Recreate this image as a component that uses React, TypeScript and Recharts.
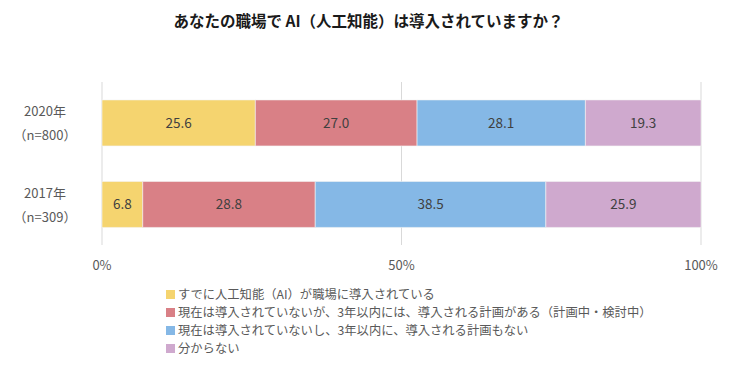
import React from 'react';
import {
  BarChart,
  Bar,
  XAxis,
  YAxis,
  CartesianGrid,
  LabelList
} from 'recharts';

document.body.style.margin = '0';

const FONT = '"Noto Sans CJK JP", "Noto Sans", sans-serif';

const years = ['2020年', '2017年'];
const samples = ['（n=800）', '（n=309）'];
const introduced = [25.6, 6.8];
const planned = [27.0, 28.8];
const noPlan = [28.1, 38.5];
const unknown = [19.3, 25.9];
const xTicks = [0, 50, 100];

const seriesNames = [
  'すでに人工知能（AI）が職場に導入されている',
  '現在は導入されていないが、3年以内には、導入される計画がある（計画中・検討中）',
  '現在は導入されていないし、3年以内に、導入される計画もない',
  '分からない'
];
const seriesKeys = ['introduced', 'planned', 'noPlan', 'unknown'];
const colors = ['#F5D46F', '#D98086', '#85B8E6', '#CFA9CE'];

const data = years.map((y, i) => ({
  year: y,
  n: samples[i],
  introduced: introduced[i],
  planned: planned[i],
  noPlan: noPlan[i],
  unknown: unknown[i]
}));

const YTick = (props: any) => {
  const { x, y, payload } = props;
  const row = data.find((d) => d.year === payload.value);
  return (
    <g>
      <text x={x - 49} y={y - 12} textAnchor="middle" dominantBaseline="central" fontSize={13} fill="#595959" fontFamily={FONT}>
        {payload.value}
      </text>
      <text x={x - 49} y={y + 12} textAnchor="middle" dominantBaseline="central" fontSize={13} fill="#595959" fontFamily={FONT}>
        {row ? row.n : ''}
      </text>
    </g>
  );
};

export default function App() {
  return (
    <div style={{ position: 'relative', width: 755, height: 385, background: '#fff', fontFamily: FONT }}>
      <div
        style={{
          position: 'absolute',
          top: 9,
          left: 0,
          width: 737,
          textAlign: 'center',
          fontSize: 15.5,
          fontWeight: 'bold',
          color: '#1a1a1a'
        }}
      >
        あなたの職場で AI（人工知能）は導入されていますか？
      </div>
      <BarChart
        width={755}
        height={385}
        data={data}
        layout="vertical"
        margin={{ top: 82, right: 54, bottom: 110, left: 2 }}
        barCategoryGap="22%"
      >
        <CartesianGrid vertical horizontal={false} stroke="#d9d9d9" />
        <XAxis
          type="number"
          domain={[0, 100]}
          ticks={xTicks}
          tickFormatter={(v) => v + '%'}
          axisLine={false}
          tickLine={false}
          tickMargin={10}
          height={30}
          tick={{ fontSize: 13, fill: '#595959', fontFamily: FONT }}
        />
        <YAxis
          type="category"
          dataKey="year"
          width={100}
          axisLine={false}
          tickLine={false}
          tick={<YTick />}
        />
        {seriesKeys.map((k, i) => (
          <Bar key={k} dataKey={k} stackId="a" fill={colors[i]} stroke="#f4f4f4" strokeWidth={0.6} isAnimationActive={false}>
            <LabelList
              dataKey={k}
              position="center"
              formatter={(v: any) => Number(v).toFixed(1)}
              style={{ fontSize: 13.5, fill: '#404040', fontFamily: FONT }}
            />
          </Bar>
        ))}
      </BarChart>
      <div style={{ position: 'absolute', left: 166, top: 285, fontSize: 12.3, color: '#595959', lineHeight: '18px' }}>
        {seriesNames.map((s, i) => (
          <div key={s} style={{ display: 'flex', alignItems: 'center', whiteSpace: 'nowrap' }}>
            <span style={{ display: 'inline-block', width: 9, height: 9, background: colors[i], marginRight: 3 }} />
            {s}
          </div>
        ))}
      </div>
    </div>
  );
}
